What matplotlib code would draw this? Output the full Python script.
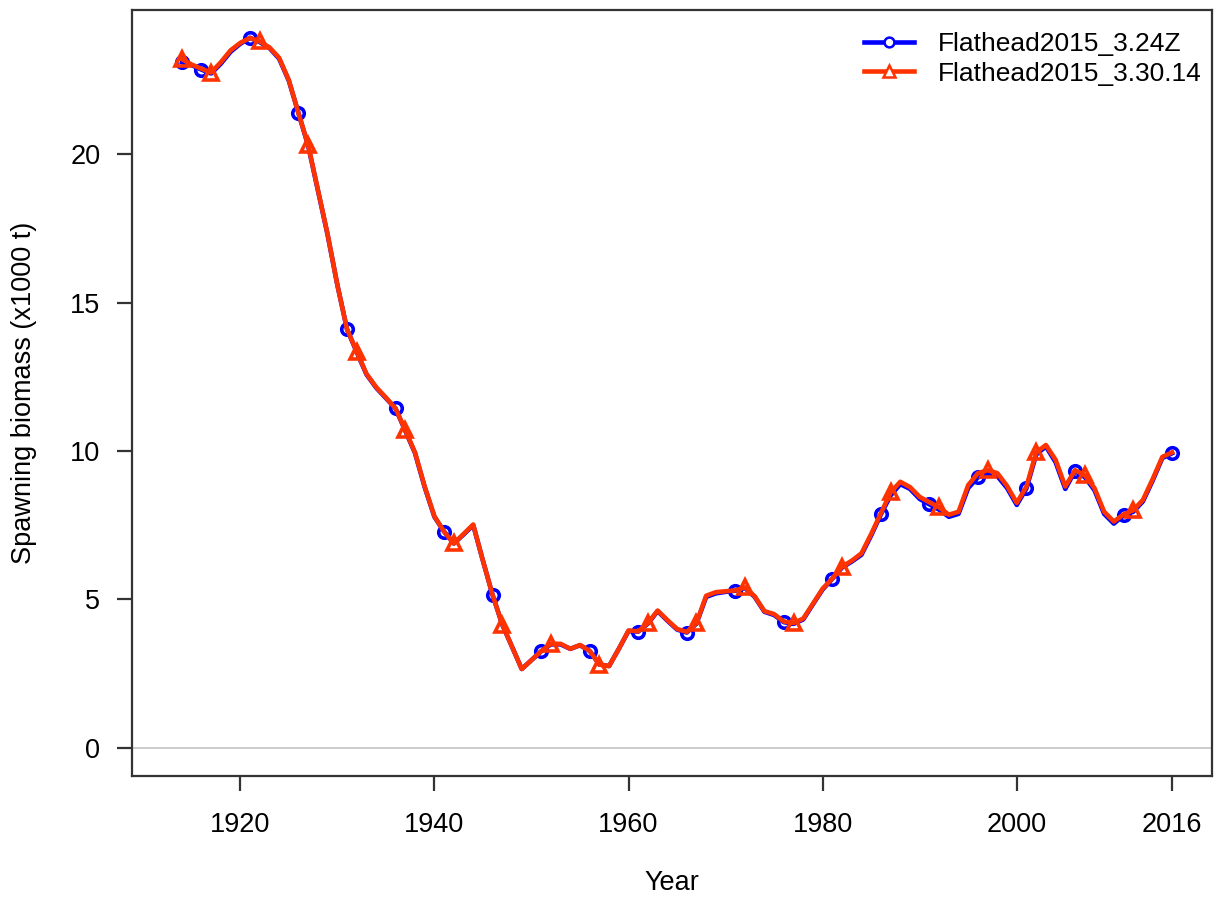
import matplotlib
matplotlib.use("Agg")
import matplotlib.pyplot as plt

plt.rcParams["font.family"] = ["Liberation Sans", "DejaVu Sans"]

years = list(range(1914, 2017))

# Spawning biomass (x1000 t), model 3.24Z
ssb_324 = [
    23.10, 23.00, 22.85, 22.72, 23.05, 23.45, 23.72, 23.92, 23.78, 23.58,
    23.22, 22.48, 21.38, 20.28, 18.78, 17.28, 15.60, 14.10, 13.33, 12.58,
    12.13, 11.78, 11.43, 10.68, 9.93, 8.78, 7.78, 7.28, 6.88, 7.18,
    7.50, 6.30, 5.14, 4.14, 3.40, 2.65, 2.95, 3.25, 3.48, 3.48,
    3.33, 3.45, 3.26, 2.80, 2.75, 3.33, 3.93, 3.91, 4.18, 4.60,
    4.28, 3.98, 3.88, 4.18, 5.08, 5.20, 5.25, 5.29, 5.38, 5.08,
    4.58, 4.47, 4.23, 4.17, 4.32, 4.83, 5.33, 5.69, 6.07, 6.27,
    6.50, 7.15, 7.86, 8.50, 8.88, 8.72, 8.38, 8.20, 8.02, 7.78,
    7.88, 8.75, 9.11, 9.22, 9.15, 8.75, 8.18, 8.74, 9.88, 10.15,
    9.62, 8.72, 9.32, 9.12, 8.68, 7.88, 7.55, 7.83, 7.95, 8.30,
    9.00, 9.76, 9.92,
]

# Spawning biomass (x1000 t), model 3.30.14
ssb_330 = [
    23.20, 23.02, 22.88, 22.75, 23.10, 23.50, 23.75, 23.92, 23.80, 23.60,
    23.25, 22.50, 21.38, 20.30, 18.80, 17.30, 15.60, 14.10, 13.35, 12.60,
    12.15, 11.80, 11.43, 10.70, 9.95, 8.80, 7.80, 7.28, 6.88, 7.20,
    7.52, 6.30, 5.14, 4.15, 3.40, 2.65, 2.95, 3.25, 3.50, 3.50,
    3.33, 3.46, 3.26, 2.80, 2.75, 3.33, 3.95, 3.92, 4.20, 4.62,
    4.30, 4.00, 3.90, 4.20, 5.12, 5.24, 5.27, 5.30, 5.40, 5.10,
    4.60, 4.50, 4.25, 4.20, 4.35, 4.85, 5.36, 5.70, 6.10, 6.30,
    6.55, 7.20, 7.90, 8.60, 8.96, 8.78, 8.45, 8.27, 8.10, 7.85,
    7.95, 8.85, 9.25, 9.35, 9.25, 8.82, 8.25, 8.80, 9.95, 10.20,
    9.70, 8.80, 9.35, 9.18, 8.75, 7.95, 7.62, 7.86, 8.00, 8.35,
    9.05, 9.80, 9.95,
]

labels = ["Flathead2015_3.24Z", "Flathead2015_3.30.14"]
xtick_vals = [1920, 1940, 1960, 1980, 2000, 2016]
ytick_vals = [0, 5, 10, 15, 20]

blue = "#0000FF"
red = "#FF3300"

# marker positions: both at the first year, then every 5th year (offset per model)
mk_324 = [0] + list(range(2, len(years), 5))
mk_330 = [0] + list(range(3, len(years), 5))

fig = plt.figure(figsize=(12.14, 8.99), dpi=100)
ax = fig.add_axes([0.109, 0.1368, 0.8894, 0.8521])

ax.axhline(0, color="#C8C8C8", lw=1.3, zorder=1)

ax.plot(years, ssb_324, color=blue, lw=3.3, marker="o", markevery=mk_324,
        ms=8.3, mfc="none", mec=blue, mew=2.6, label=labels[0], zorder=3)
ax.plot(years, ssb_330, color=red, lw=3.3, marker="^", markevery=mk_330,
        ms=10.5, mfc="none", mec=red, mew=2.6, label=labels[1], zorder=4)

ax.set_xlim(1908.88, 2020.12)
ax.set_ylim(-0.956, 24.86)
ax.set_xticks(xtick_vals)
ax.set_yticks(ytick_vals)

for s in ax.spines.values():
    s.set_linewidth(1.6)
    s.set_color("#333333")
ax.tick_params(axis="both", direction="out", length=11, width=1.6,
               color="#333333", labelsize=19.5, pad=12)
ax.tick_params(axis="x", pad=15)

ax.set_xlabel("Year", fontsize=19.5, labelpad=23)
ax.set_ylabel("Spawning biomass (x1000 t)", fontsize=19.5, labelpad=24)

leg = ax.legend(loc="upper right", bbox_to_anchor=(1.011, 1.0), frameon=False,
                fontsize=19, handlelength=1.9, handletextpad=0.9,
                labelspacing=0.2, borderaxespad=0.0, borderpad=0.85,
                markerscale=0.85)
for h in leg.legend_handles:
    h.set_markeredgewidth(1.8)
    h.set_markerfacecolor("white")

fig.savefig("out.png", dpi=100)
